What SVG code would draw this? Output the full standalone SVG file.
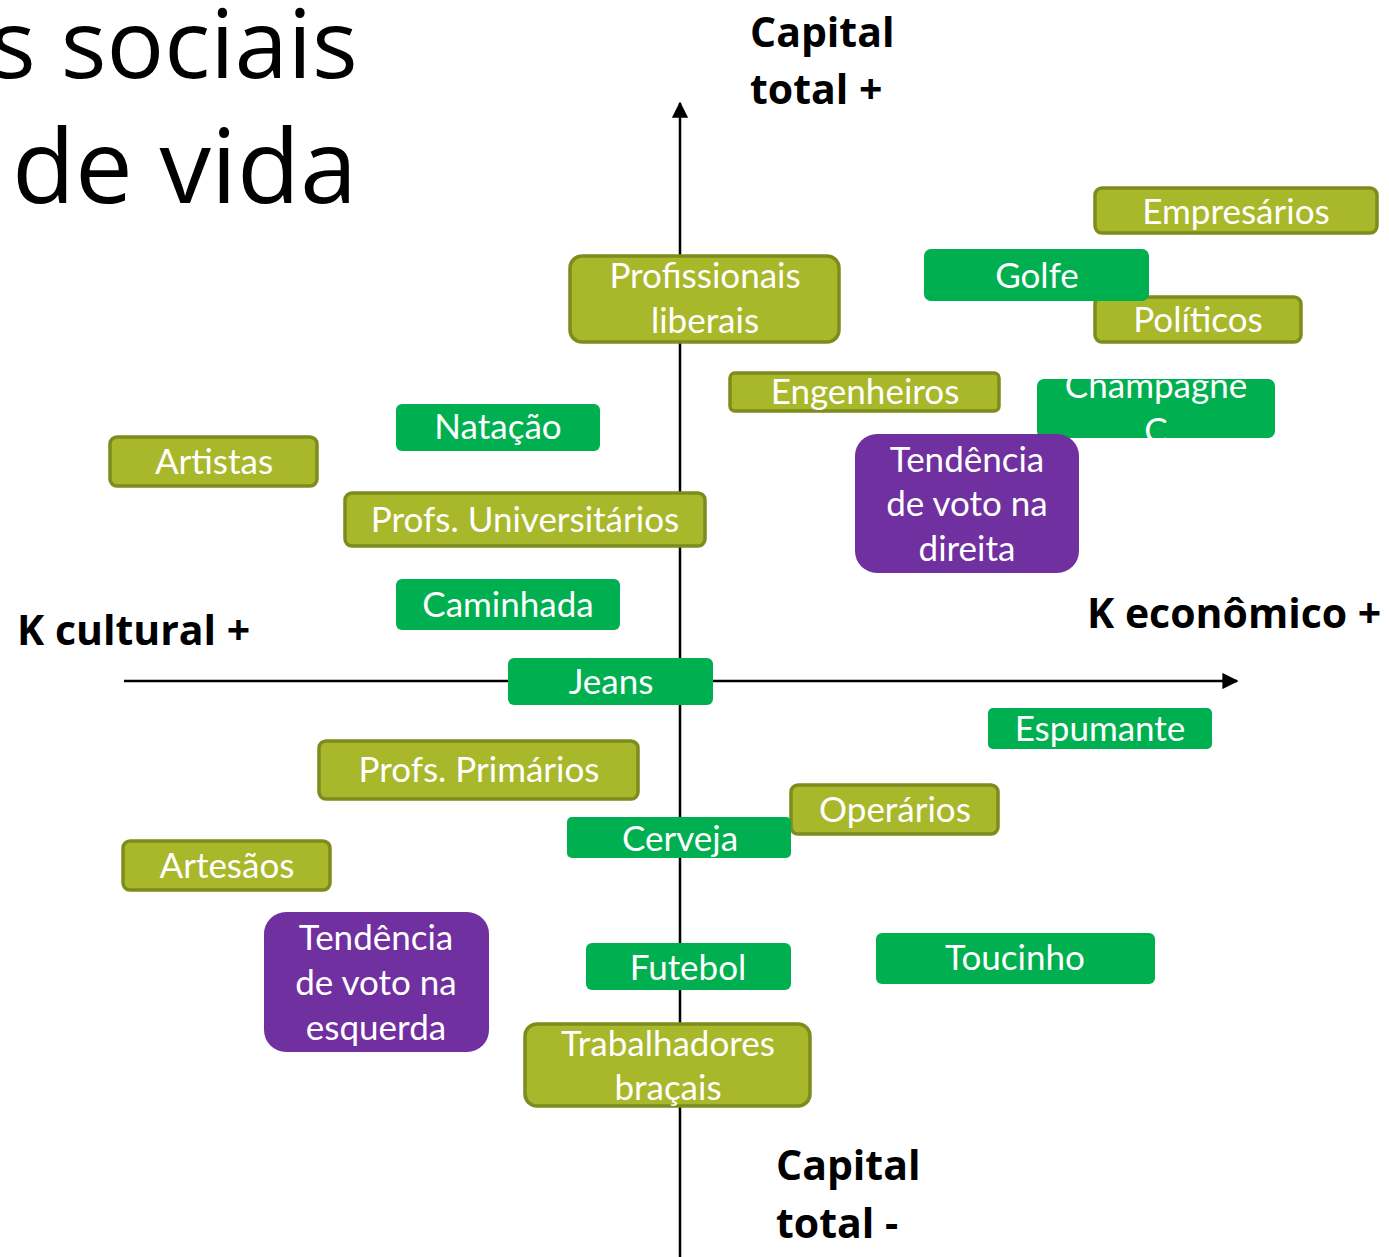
<svg xmlns="http://www.w3.org/2000/svg" width="1389" height="1257" viewBox="0 0 1389 1257">
  <style>
    .olive { fill: #a8b82a; stroke: #7d8c1d; stroke-width: 3.5; }
    .green { fill: #00b050; }
    .purple { fill: #7030a0; }
    .lbl { font-family: Lato, "Open Sans", sans-serif; font-size: 35px; fill: #ffffff; text-anchor: middle; }
    .axis { font-family: "Open Sans", "Noto Sans", sans-serif; font-weight: bold; font-size: 41px; fill: #000000; }
    .title { font-family: "Open Sans", "Noto Sans", sans-serif; fill: #000000; }
    .ax { stroke: #000000; stroke-width: 2.5; fill: none; }
  </style>
  <defs>
    <marker id="arrow" viewBox="0 0 10 10" refX="9" refY="5" markerWidth="6.5" markerHeight="6.5" orient="auto" markerUnits="strokeWidth">
      <path d="M0,0 L10,5 L0,10 z" fill="#000000"/>
    </marker>
  </defs>

  <!-- title fragments -->
  <text class="title" x="-10" y="78" font-size="96">s sociais</text>
  <text class="title" x="12" y="203" font-size="103">de vida</text>

  <!-- axes -->
  <g id="connectors">
    <line class="ax" x1="680" y1="1257" x2="680" y2="103" marker-end="url(#arrow)"/>
    <line class="ax" x1="124" y1="681" x2="1237" y2="681" marker-end="url(#arrow)"/>
  </g>

  <!-- axis labels -->
  <text class="axis" x="750" y="47" font-size="42">Capital</text>
  <text class="axis" x="750" y="104" font-size="42">total +</text>
  <text class="axis" x="776" y="1180" font-size="42">Capital</text>
  <text class="axis" x="776" y="1238" font-size="42">total -</text>
  <text class="axis" x="17" y="645">K cultural +</text>
  <text class="axis" x="1087" y="628">K econômico +</text>

  <!-- upper half -->
  <g id="empresarios">
    <rect class="olive" x="1095" y="188" width="282" height="45" rx="7"/>
    <text class="lbl" x="1236" y="224">Empresários</text>
  </g>
  <g id="politicos">
    <rect class="olive" x="1095" y="297" width="206" height="45" rx="7"/>
    <text class="lbl" x="1198" y="332">Políticos</text>
  </g>
  <g id="golfe">
    <rect class="green" x="924" y="249" width="225" height="52" rx="7"/>
    <text class="lbl" x="1037" y="288">Golfe</text>
  </g>
  <g id="profissionais-liberais">
    <rect class="olive" x="570" y="256" width="269" height="86" rx="12"/>
    <text class="lbl" x="705" y="288">Profissionais</text>
    <text class="lbl" x="705" y="333">liberais</text>
  </g>
  <g id="engenheiros">
    <rect class="olive" x="730" y="373" width="269" height="38" rx="5"/>
    <text class="lbl" x="865" y="404">Engenheiros</text>
  </g>
  <g id="champagne">
    <rect class="green" x="1037" y="379" width="238" height="59" rx="7"/>
    <text class="lbl" x="1156" y="398">Champagne</text>
    <text class="lbl" x="1156" y="443">C</text>
  </g>
  <g id="natacao">
    <rect class="green" x="396" y="404" width="204" height="47" rx="6"/>
    <text class="lbl" x="498" y="439">Natação</text>
  </g>
  <g id="artistas">
    <rect class="olive" x="110" y="437" width="207" height="49" rx="7"/>
    <text class="lbl" x="214" y="474">Artistas</text>
  </g>
  <g id="voto-direita">
    <rect class="purple" x="855" y="434" width="224" height="139" rx="22"/>
    <text class="lbl" x="967" y="472">Tendência</text>
    <text class="lbl" x="967" y="516">de voto na</text>
    <text class="lbl" x="967" y="561">direita</text>
  </g>
  <g id="profs-universitarios">
    <rect class="olive" x="345" y="493" width="360" height="53" rx="7"/>
    <text class="lbl" x="525" y="532">Profs. Universitários</text>
  </g>
  <g id="caminhada">
    <rect class="green" x="396" y="579" width="224" height="51" rx="6"/>
    <text class="lbl" x="508" y="617">Caminhada</text>
  </g>
  <g id="jeans">
    <rect class="green" x="508" y="658" width="205" height="47" rx="6"/>
    <text class="lbl" x="611" y="694">Jeans</text>
  </g>

  <!-- lower half -->
  <g id="espumante">
    <rect class="green" x="988" y="708" width="224" height="41" rx="5"/>
    <text class="lbl" x="1100" y="741">Espumante</text>
  </g>
  <g id="profs-primarios">
    <rect class="olive" x="319" y="741" width="319" height="58" rx="7"/>
    <text class="lbl" x="479" y="782">Profs. Primários</text>
  </g>
  <g id="operarios">
    <rect class="olive" x="791" y="785" width="207" height="49" rx="7"/>
    <text class="lbl" x="895" y="822">Operários</text>
  </g>
  <g id="cerveja">
    <rect class="green" x="567" y="817" width="224" height="41" rx="5"/>
    <text class="lbl" x="680" y="851">Cerveja</text>
  </g>
  <g id="artesaos">
    <rect class="olive" x="123" y="841" width="207" height="49" rx="7"/>
    <text class="lbl" x="227" y="878">Artesãos</text>
  </g>
  <g id="voto-esquerda">
    <rect class="purple" x="264" y="912" width="225" height="140" rx="22"/>
    <text class="lbl" x="376" y="950">Tendência</text>
    <text class="lbl" x="376" y="995">de voto na</text>
    <text class="lbl" x="376" y="1040">esquerda</text>
  </g>
  <g id="toucinho">
    <rect class="green" x="876" y="933" width="279" height="51" rx="6"/>
    <text class="lbl" x="1015" y="970">Toucinho</text>
  </g>
  <g id="futebol">
    <rect class="green" x="586" y="943" width="205" height="47" rx="6"/>
    <text class="lbl" x="688" y="980">Futebol</text>
  </g>
  <g id="trabalhadores-bracais">
    <rect class="olive" x="525" y="1024" width="285" height="82" rx="12"/>
    <text class="lbl" x="668" y="1056">Trabalhadores</text>
    <text class="lbl" x="668" y="1100">braçais</text>
  </g>
</svg>
